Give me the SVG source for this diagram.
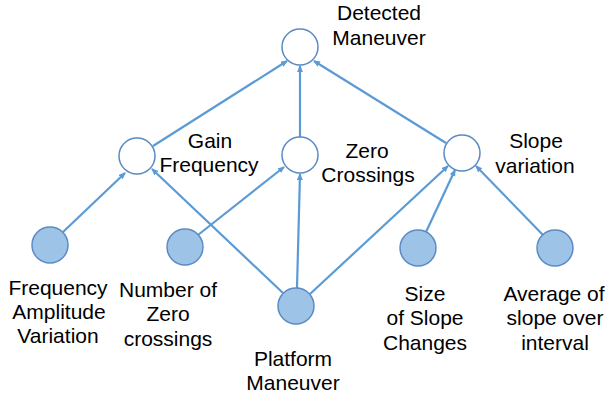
<svg xmlns="http://www.w3.org/2000/svg" width="607" height="396" viewBox="0 0 607 396">
<style>
.e{fill:#fff;stroke:#5B8AC4;stroke-width:1.5}
.f{fill:#9DC3E6;stroke:#5B8AC4;stroke-width:1.5}
.c line{stroke:#5B9BD5;stroke-width:2.2}
text{font-family:"Liberation Sans",Arial,sans-serif;font-size:21px;fill:#000;text-anchor:middle}
</style>
<defs>
<marker id="a" markerWidth="8" markerHeight="8" refX="6" refY="3" orient="auto" markerUnits="userSpaceOnUse">
<path d="M0,0 L7,3 L0,6 z" fill="#5B9BD5"/>
</marker>
</defs>
<rect width="607" height="396" fill="#fff"/>
<g class="c" id="connectors">
<line x1="153" y1="146" x2="287" y2="61" marker-end="url(#a)"/>
<line x1="300" y1="137" x2="300" y2="66" marker-end="url(#a)"/>
<line x1="446" y1="143" x2="314" y2="61" marker-end="url(#a)"/>
<line x1="63" y1="232" x2="125" y2="173" marker-end="url(#a)"/>
<line x1="283" y1="293" x2="152" y2="169" marker-end="url(#a)"/>
<line x1="198" y1="235" x2="284" y2="167" marker-end="url(#a)"/>
<line x1="297" y1="288" x2="300" y2="174" marker-end="url(#a)"/>
<line x1="310" y1="294" x2="448" y2="166" marker-end="url(#a)"/>
<line x1="426" y1="232" x2="455" y2="170" marker-end="url(#a)"/>
<line x1="543" y1="235" x2="476" y2="166" marker-end="url(#a)"/>
</g>
<g id="detected"><circle class="e" cx="300" cy="47" r="18"/><text x="379" y="20">Detected</text><text x="379" y="45">Maneuver</text></g>
<g id="gain"><circle class="e" cx="137" cy="156" r="18"/><text x="210" y="148">Gain</text><text x="209" y="172">Frequency</text></g>
<g id="zero"><circle class="e" cx="300" cy="155" r="18"/><text x="367" y="158">Zero</text><text x="368" y="182">Crossings</text></g>
<g id="slope"><circle class="e" cx="462" cy="153" r="18"/><text x="536" y="148">Slope</text><text x="535" y="173">variation</text></g>
<g id="fav"><circle class="f" cx="50" cy="245" r="18"/><text x="58" y="295">Frequency</text><text x="59" y="319">Amplitude</text><text x="58" y="343">Variation</text></g>
<g id="nzc"><circle class="f" cx="185" cy="247" r="18"/><text x="168" y="297">Number of</text><text x="168" y="321">Zero</text><text x="168" y="346">crossings</text></g>
<g id="platform"><circle class="f" cx="296" cy="306" r="18"/><text x="293" y="366">Platform</text><text x="293" y="390">Maneuver</text></g>
<g id="size"><circle class="f" cx="418" cy="248" r="18"/><text x="425" y="301">Size</text><text x="425" y="325">of Slope</text><text x="425" y="350">Changes</text></g>
<g id="average"><circle class="f" cx="555" cy="248" r="18"/><text x="554" y="301">Average of</text><text x="555" y="325">slope over</text><text x="555" y="350">interval</text></g>
</svg>
